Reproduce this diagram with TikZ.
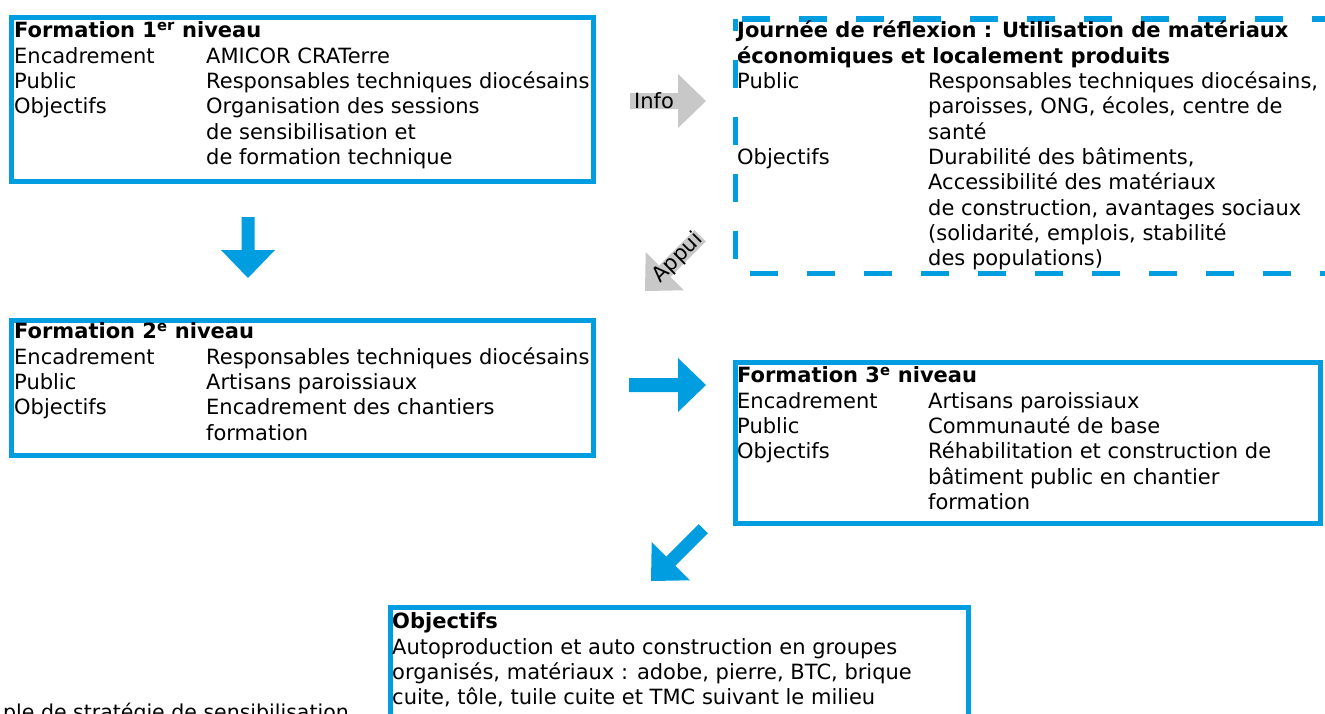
\documentclass[tikz,border=0pt]{standalone}
\usepackage{fontspec}
\setmainfont{DejaVu Sans}
\usepackage{array}
\definecolor{bleu}{RGB}{0,158,224}
\definecolor{gris}{RGB}{200,200,200}

\tikzset{
  cadre/.style={draw=bleu, line width=5.5pt, inner sep=0pt, outer sep=0pt, anchor=north west},
  texte/.style={inner sep=0pt, anchor=north west, font=\fontsize{21}{25.3}\selectfont},
  legende/.style={inner sep=0pt, anchor=base west, font=\fontsize{20.5}{24}\selectfont},
}
% fleche pleine : couleur, pointe, angle, longueur, demi-largeur du corps
\newcommand{\fleche}[5]{%
  \fill[#1,shift={#2},rotate=#3] (0,0) -- (-28,-27) -- (-28,-#5) -- (-#4,-#5)
    -- (-#4,#5) -- (-28,#5) -- (-28,27) -- cycle;}

\begin{document}
\begin{tikzpicture}[x=1pt,y=-1pt]
  \useasboundingbox (0,0) rectangle (1325,713);
  \clip (0,0) rectangle (1325,713);

  % cadres
  \node[cadre, minimum width=582, minimum height=164] (f1) at (11.5,17.5) {};
  \node[cadre, minimum width=582, minimum height=135] (f2) at (11.5,320.5) {};
  \node[cadre, minimum width=585, minimum height=161] (f3) at (735.5,362.5) {};
  \node[cadre, minimum width=578, minimum height=140] (obj) at (390.5,607.5) {};
  \draw[bleu, line width=5.5pt, dash pattern=on 28pt off 29pt, dash phase=16pt]
    (735.5,19) rectangle (1345,273.5);
  \coordinate (jr) at (735.5,19);

  % textes
  \node[texte] (t1) at (14,20) {\begin{tabular}{@{}p{192pt}@{}l@{}}
    \multicolumn{2}{@{}l@{}}{\bfseries Formation 1\textsuperscript{er} niveau}\\
    Encadrement & AMICOR CRATerre\\
    Public & Responsables techniques diocésains\\
    Objectifs & Organisation des sessions\\
     & de sensibilisation et\\
     & de formation technique
  \end{tabular}};
  \node[texte] (t2) at (14,321) {\begin{tabular}{@{}p{192pt}@{}l@{}}
    \multicolumn{2}{@{}l@{}}{\bfseries Formation 2\textsuperscript{e} niveau}\\
    Encadrement & Responsables techniques diocésains\\
    Public & Artisans paroissiaux\\
    Objectifs & Encadrement des chantiers\\
     & formation
  \end{tabular}};
  \node[texte] (tj) at ([shift={(1.5,1)}]jr) {\begin{tabular}{@{}p{191pt}@{}l@{}}
    \multicolumn{2}{@{}l@{}}{\bfseries Journée de réflexion : Utilisation de matériaux}\\
    \multicolumn{2}{@{}l@{}}{\bfseries économiques et localement produits}\\
    Public & Responsables techniques diocésains,\\
     & paroisses, ONG, écoles, centre de\\
     & santé\\
    Objectifs & Durabilité des bâtiments,\\
     & Accessibilité des matériaux\\
     & de construction, avantages sociaux\\
     & (solidarité, emplois, stabilité\\
     & des populations)
  \end{tabular}};
  \node[texte] (t3) at (737,365) {\begin{tabular}{@{}p{191pt}@{}l@{}}
    \multicolumn{2}{@{}l@{}}{\bfseries Formation 3\textsuperscript{e} niveau}\\
    Encadrement & Artisans paroissiaux\\
    Public & Communauté de base\\
    Objectifs & Réhabilitation et construction de\\
     & bâtiment public en chantier\\
     & formation
  \end{tabular}};
  \node[texte] (t4) at (392,611) {\begin{tabular}{@{}l@{}}
    \bfseries Objectifs\\
    Autoproduction et auto construction en groupes\\
    organisés, matériaux : adobe, pierre, BTC, brique\\
    cuite, tôle, tuile cuite et TMC suivant le milieu
  \end{tabular}};

  % fleches
  \fleche{bleu}{(248,278)}{-90}{61}{6.5}
  \fleche{bleu}{(706,385)}{0}{77}{7}
  \fleche{bleu}{(651,581)}{225}{74}{6.5}
  \fleche{gris}{(706,101)}{0}{76}{8}
  \node[texte, anchor=center] (info) at (654,101) {Info};
  \fleche{gris}{(645,291)}{225}{78}{8}
  \node[texte, anchor=center, rotate=45] (appui) at (678,258) {Appui};

  \node[legende] (leg) at (3,719) {ple de stratégie de sensibilisation};
\end{tikzpicture}
\end{document}
